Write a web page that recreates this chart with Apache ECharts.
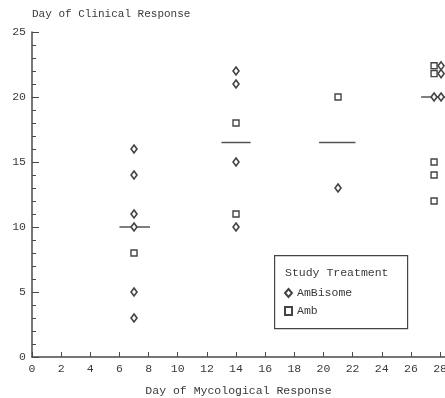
<!DOCTYPE html>
<html>
<head>
<meta charset="utf-8">
<script src="https://cdn.jsdelivr.net/npm/echarts@6/dist/echarts.min.js"></script>
<style>html,body{margin:0;padding:0;background:#fff;overflow:hidden;}#c{width:445px;height:398px;}</style>
</head>
<body>
<div id="c"></div>
<script>
// AmBisome (diamonds)
const ambisomeX = [7, 7, 7, 7, 7, 7, 14, 14, 14, 14, 21, 28.07, 28.07, 27.59, 28.07];
const ambisomeY = [16, 14, 11, 10, 5, 3, 22, 21, 15, 10, 13, 22.4, 21.8, 20, 20];
// Amb (squares)
const ambX = [7, 14, 14, 21, 27.59, 27.59, 27.59, 27.59, 27.59];
const ambY = [8, 18, 11, 20, 22.4, 21.8, 15, 14, 12];
// Median lines
const medianStart = [6.0, 13.0, 19.7, 26.7];
const medianEnd = [8.1, 15.0, 22.2, 29.2];
const medianY = [10, 16.5, 16.5, 20];
const xTicks = [0, 2, 4, 6, 8, 10, 12, 14, 16, 18, 20, 22, 24, 26, 28];
const yTicks = [0, 5, 10, 15, 20, 25];

const FONT = '"Liberation Mono", "DejaVu Sans Mono", monospace';
const TXT = '#3a3a3a';
const AX = '#4a4a4a';

const medianSeries = medianY.map((y, i) => ({
  type: 'line',
  data: [[medianStart[i], y], [medianEnd[i], y]],
  symbol: 'none',
  lineStyle: { color: '#555', width: 1.6 },
  silent: true,
  z: 1
}));

const chart = echarts.init(document.getElementById('c'), null, { renderer: 'canvas' });
chart.setOption({
  animation: false,
  backgroundColor: '#fff',
  grid: { left: 32, right: 0, top: 32, bottom: 41, containLabel: false, outerBoundsMode: 'none' },
  xAxis: {
    type: 'value', min: 0, max: 28.34, interval: 2,
    name: 'Day of Mycological Response', nameLocation: 'middle', nameGap: 28,
    nameTextStyle: { fontFamily: FONT, fontSize: 11.5, color: TXT },
    axisLine: { lineStyle: { color: AX, width: 1.5 } },
    axisTick: { inside: true, length: 5, lineStyle: { color: AX } },
    axisLabel: { fontFamily: FONT, fontSize: 11.5, color: TXT, margin: 6, showMaxLabel: false,
      formatter: v => (xTicks.indexOf(v) >= 0 ? String(v) : '') },
    splitLine: { show: false }
  },
  yAxis: {
    type: 'value', min: 0, max: 25, interval: 5,
    name: 'Day of Clinical Response', nameLocation: 'end', nameGap: 18,
    nameTextStyle: { fontFamily: FONT, fontSize: 11, color: TXT, align: 'left', verticalAlign: 'middle' },
    axisLine: { show: true, lineStyle: { color: AX, width: 1.5 } },
    axisTick: { show: true, inside: true, length: 7, lineStyle: { color: AX } },
    minorTick: { show: true, splitNumber: 5, length: 4, lineStyle: { color: AX } },
    axisLabel: { fontFamily: FONT, fontSize: 11.5, color: TXT, margin: 6,
      formatter: v => (yTicks.indexOf(v) >= 0 ? String(v) : '') },
    splitLine: { show: false }
  },
  legend: {
    left: 284, top: 287, orient: 'vertical', itemGap: 6, z: 20,
    itemWidth: 7, itemHeight: 8, padding: 0,
    textStyle: { fontFamily: FONT, fontSize: 11.5, color: TXT },
    data: ['AmBisome', 'Amb']
  },
  graphic: {
    elements: [
      { type: 'rect', left: 274, top: 255, shape: { width: 133, height: 73 },
        style: { fill: 'rgba(255,255,255,0)', stroke: '#444', lineWidth: 1.2 }, z: 1 },
      { type: 'text', left: 285, top: 267, z: 2,
        style: { text: 'Study Treatment', font: '11.5px ' + FONT, fill: TXT } }
    ]
  },
  series: [
    ...medianSeries,
    {
      name: 'AmBisome', type: 'scatter', symbol: 'diamond', symbolSize: [6, 8],
      data: ambisomeX.map((x, i) => [x, ambisomeY[i]]),
      itemStyle: { color: '#fff', borderColor: '#444', borderWidth: 1.6, opacity: 1 }, z: 3
    },
    {
      name: 'Amb', type: 'scatter', symbol: 'rect', symbolSize: 6,
      data: ambX.map((x, i) => [x, ambY[i]]),
      itemStyle: { color: '#fff', borderColor: '#444', borderWidth: 1.4, opacity: 1 }, z: 3
    }
  ]
});
</script>
</body>
</html>
